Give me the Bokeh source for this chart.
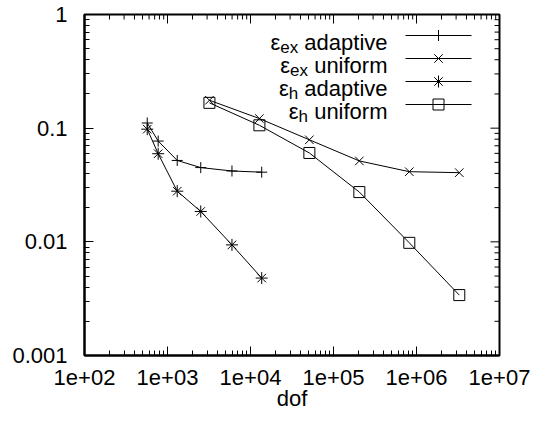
import math
from bokeh.plotting import figure
from bokeh.models import Range1d, FixedTicker, CustomJSTickFormatter, ColumnDataSource
from bokeh.core.properties import value
from bokeh.embed import file_html
from bokeh.resources import INLINE

# ---------------- data ----------------
adaptive_dof = [570, 772, 1310, 2515, 5980, 13650]
ex_adaptive = [0.111, 0.077, 0.052, 0.045, 0.042, 0.041]
h_adaptive = [0.098, 0.0596, 0.0279, 0.0185, 0.0094, 0.0048]

uniform_dof = [3200, 12800, 51200, 204800, 819200, 3276800]
ex_uniform = [0.176, 0.1215, 0.079, 0.0515, 0.0414, 0.0406]
h_uniform = [0.167, 0.106, 0.0605, 0.0274, 0.0098, 0.0034]

x_ticks = [1e2, 1e3, 1e4, 1e5, 1e6, 1e7]
y_ticks = [1e-3, 1e-2, 1e-1, 1.0]
x_title = "dof"

legend_symbol = ["\u03b5", "\u03b5", "\u03b5", "\u03b5"]
legend_sub = ["ex", "ex", "h", "h"]
legend_main = ["adaptive", "uniform", "adaptive", "uniform"]
legend_marker = ["cross", "x", "asterisk", "square"]

# ---------------- styling / layout ----------------
FONT = "Liberation Sans"
MAIN_PX = 22
SUB_PX = 17

# approximate Helvetica/Liberation Sans advance widths (em)
CW = {" ": 0.278, "a": 0.556, "d": 0.556, "p": 0.556, "t": 0.278, "i": 0.222,
      "v": 0.5, "e": 0.556, "u": 0.556, "n": 0.556, "f": 0.278, "o": 0.556,
      "r": 0.333, "m": 0.833, "x": 0.5, "h": 0.556}


def text_w(s, px):
    return sum(CW.get(c, 0.556) for c in s) * px


# canvas and frame in page pixels (Bokeh's page template has no body margin)
W, H = 534, 421
FX0, FX1 = 84.0, 499.0
FY0, FY1 = 14.0, 355.0

p = figure(width=W, height=H,
           x_axis_type="log", y_axis_type="log",
           x_range=Range1d(1e2, 1e7), y_range=Range1d(1e-3, 1.0),
           output_backend="svg", toolbar_location=None,
           min_border_left=int(FX0), min_border_right=int(W - FX1),
           min_border_top=int(FY0), min_border_bottom=int(H - FY1),
           background_fill_color="white", border_fill_color="white")
p.xgrid.grid_line_color = None
p.ygrid.grid_line_color = None
p.outline_line_color = "black"
p.outline_line_width = 2

bottom_axis = p.below[0]
left_axis = p.left[0]

x_minor = [m * 10 ** k for k in range(2, 7) for m in range(2, 10)]
y_minor = [m * 10.0 ** k for k in range(-3, 0) for m in range(2, 10)]

bottom_axis.ticker = FixedTicker(ticks=x_ticks, minor_ticks=x_minor)
left_axis.ticker = FixedTicker(ticks=y_ticks, minor_ticks=y_minor)
bottom_axis.formatter = CustomJSTickFormatter(code="""
const e = Math.round(Math.log10(tick));
return "1e" + (e < 0 ? "-" : "+") + String(Math.abs(e)).padStart(2, "0");
""")
left_axis.formatter = CustomJSTickFormatter(code="return String(tick);")

for ax in [bottom_axis, left_axis]:
    ax.axis_line_color = "black"
    ax.axis_line_width = 2
    ax.major_tick_in = 9
    ax.major_tick_out = 0
    ax.minor_tick_in = 5
    ax.minor_tick_out = 0
    ax.major_tick_line_color = "black"
    ax.minor_tick_line_color = "black"
    ax.major_tick_line_width = 1
    ax.minor_tick_line_width = 1
    ax.major_label_text_font = FONT
    ax.major_label_text_color = "black"
    ax.major_label_text_font_size = f"{MAIN_PX}px"

bottom_axis.major_label_standoff = 14
left_axis.major_label_standoff = 17
bottom_axis.axis_label = x_title
bottom_axis.axis_label_text_font = FONT
bottom_axis.axis_label_text_font_size = f"{MAIN_PX}px"
bottom_axis.axis_label_text_font_style = "normal"
bottom_axis.axis_label_text_color = "black"
bottom_axis.axis_label_standoff = -2

# mirror ticks on the top and right frame edges (inward)
p.ray(x=x_ticks, y=[1.0] * len(x_ticks), length=9, length_units="screen",
      angle=-math.pi / 2, line_color="black", line_width=1)
p.ray(x=x_minor, y=[1.0] * len(x_minor), length=5, length_units="screen",
      angle=-math.pi / 2, line_color="black", line_width=1)
p.ray(x=[1e7] * len(y_ticks), y=y_ticks, length=9, length_units="screen",
      angle=math.pi, line_color="black", line_width=1)
p.ray(x=[1e7] * len(y_minor), y=y_minor, length=5, length_units="screen",
      angle=math.pi, line_color="black", line_width=1)

# ---------------- series ----------------
series = [
    (adaptive_dof, ex_adaptive, "cross", 11),
    (uniform_dof, ex_uniform, "x", 12),
    (adaptive_dof, h_adaptive, "asterisk", 12),
    (uniform_dof, h_uniform, "square", 11),
]
for xs, ys, mk, sz in series:
    p.line(xs, ys, line_color="black", line_width=1)
    p.scatter(xs, ys, marker=mk, size=sz, line_color="black", line_width=1,
              fill_color=None)


# ---------------- helpers: page pixel -> data ----------------
def xd(px):
    return 10 ** (2 + 5 * (px - FX0) / (FX1 - FX0))


def yd(py):
    return 10 ** (-3 * (py - FY0) / (FY1 - FY0))


# ---------------- legend (drawn in data space) ----------------
row_py = [35, 58, 81, 104]
text_end_px = 387
line_x0_px, line_x1_px, mark_px = 405, 471, 438

n = len(legend_main)
sub_off = [-(text_w(legend_main[i], MAIN_PX) + text_w(" ", MAIN_PX)) for i in range(n)]
eps_off = [sub_off[i] - text_w(legend_sub[i], SUB_PX) for i in range(n)]

leg = ColumnDataSource(dict(
    x_end=[xd(text_end_px)] * n,
    y_base=[yd(r + 6.5) for r in row_py],
    y_sub=[yd(r + 11.5) for r in row_py],
    x0=[xd(line_x0_px)] * n,
    x1=[xd(line_x1_px)] * n,
    xm=[xd(mark_px)] * n,
    yl=[yd(r) for r in row_py],
    main=legend_main, sub=legend_sub, sym=legend_symbol,
    sub_off=sub_off, eps_off=eps_off, marker=legend_marker,
    size=[11, 12, 12, 11],
))

p.segment(x0="x0", y0="yl", x1="x1", y1="yl", source=leg, line_color="black", line_width=1)
p.scatter(x="xm", y="yl", marker="marker", size="size", source=leg,
          line_color="black", line_width=1, fill_color=None)
p.text(x="x_end", y="y_base", text="main", source=leg,
       text_font=value(FONT), text_font_size=value(f"{MAIN_PX}px"),
       text_align="right", text_baseline="alphabetic", text_color="black")
p.text(x="x_end", y="y_sub", text="sub", source=leg, x_offset="sub_off",
       text_font=value(FONT), text_font_size=value(f"{SUB_PX}px"),
       text_align="right", text_baseline="alphabetic", text_color="black")
p.text(x="x_end", y="y_base", text="sym", source=leg, x_offset="eps_off",
       text_font=value(FONT), text_font_size=value(f"{MAIN_PX}px"),
       text_align="right", text_baseline="alphabetic", text_color="black")

open("out.html", "w").write(file_html(p, INLINE))
